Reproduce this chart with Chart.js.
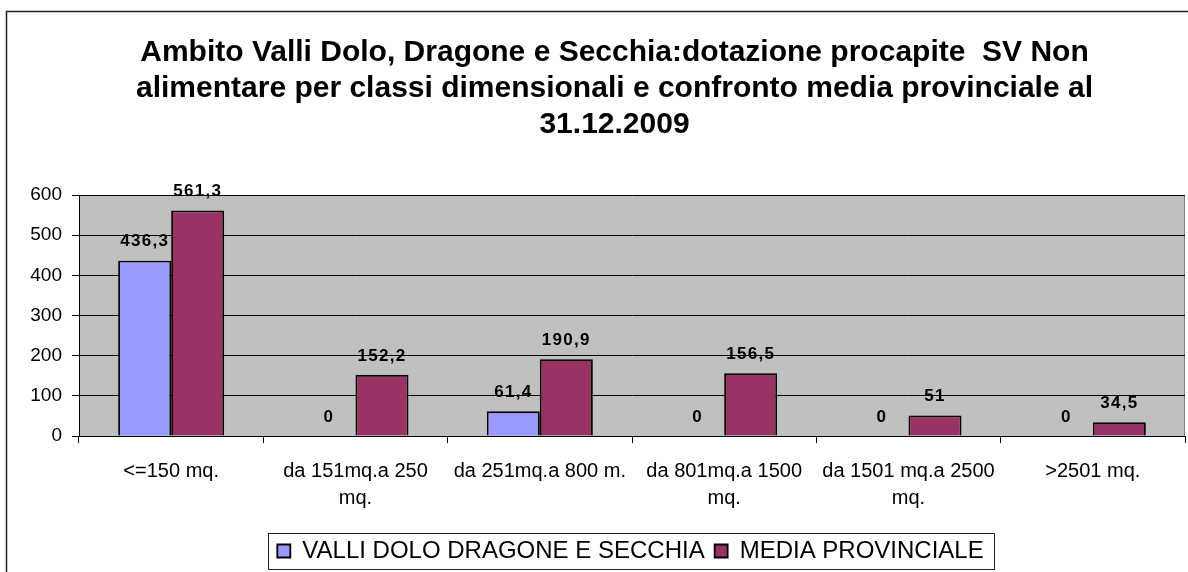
<!DOCTYPE html>
<html>
<head>
<meta charset="utf-8">
<script src="https://cdn.jsdelivr.net/npm/chart.js@4"></script>
<style>
  html, body { margin: 0; padding: 0; background: #fff; overflow: hidden; }
  #wrap { width: 1188px; height: 572px; overflow: hidden; }
</style>
</head>
<body>
<div id="wrap"><canvas id="myChart" width="1188" height="580"></canvas></div>
<script>
var categories = [
    '<=150 mq.',
    ['da 151mq.a 250', 'mq.'],
    'da 251mq.a 800 m.',
    ['da 801mq.a 1500', 'mq.'],
    ['da 1501 mq.a 2500', 'mq.'],
    '>2501 mq.'
];
var valliDolo = [436.3, 0, 61.4, 0, 0, 0];
var mediaProvinciale = [561.3, 152.2, 190.9, 156.5, 51, 34.5];
var yTicks = [0, 100, 200, 300, 400, 500, 600];
var titleLines = [
    'Ambito Valli Dolo, Dragone e Secchia:dotazione procapite  SV Non',
    'alimentare per classi dimensionali e confronto media provinciale al',
    '31.12.2009'
];

var FONT = "'Liberation Sans', Arial, sans-serif";

// sfondo bianco, cornice esterna, area grafico grigia
var sfondo = {
    id: 'sfondo',
    beforeDraw: function(chart) {
        var c = chart.ctx, a = chart.chartArea;
        c.save();
        c.fillStyle = '#fff';
        c.fillRect(0, 0, chart.width, chart.height);
        c.strokeStyle = '#222';
        c.lineWidth = 1.5;
        c.strokeRect(6.5, 11.5, 1400, 800);
        c.fillStyle = '#C0C0C0';
        c.fillRect(a.left, a.top, a.right - a.left, a.bottom - a.top);
        c.strokeStyle = '#808080';
        c.lineWidth = 1;
        c.strokeRect(a.left + 0.5, a.top + 0.5, a.right - a.left - 1, a.bottom - a.top);
        c.restore();
    }
};

// sposta titolo e legenda come nell'originale
var spostamenti = {
    id: 'spostamenti',
    afterLayout: function(chart) {
        var t = chart.titleBlock;
        t.left += 22; t.right += 22;
        var l = chart.legend;
        l.left += 38; l.right += 38;
        l.legendHitBoxes.forEach(function(hb) { hb.left += 38; });
    },
    afterDraw: function(chart) {
        var hb = chart.legend.legendHitBoxes;
        if (!hb.length) return;
        var c = chart.ctx;
        var x0 = hb[0].left - 9;
        var x1 = hb[hb.length - 1].left + hb[hb.length - 1].width + 11;
        var y0 = hb[0].top - 6;
        var y1 = hb[0].top + hb[0].height + 6;
        c.save();
        c.strokeStyle = '#222';
        c.lineWidth = 1;
        c.strokeRect(Math.round(x0) + 0.5, Math.round(y0) + 0.5, Math.round(x1 - x0), Math.round(y1 - y0));
        c.restore();
    }
};

// etichette dei valori sopra le barre
var etichette = {
    id: 'etichette',
    afterDatasetsDraw: function(chart) {
        var c = chart.ctx;
        c.save();
        c.font = 'bold 17px ' + FONT;
        c.letterSpacing = '1.3px';
        c.fillStyle = '#000';
        c.textAlign = 'center';
        c.textBaseline = 'middle';
        chart.data.datasets.forEach(function(ds, i) {
            chart.getDatasetMeta(i).data.forEach(function(bar, j) {
                var txt = String(ds.data[j]).replace('.', ',');
                c.fillText(txt, bar.x, bar.y - 19);
            });
        });
        c.restore();
    }
};

var ctx = document.getElementById('myChart').getContext('2d');

var myBarChart = new Chart(ctx, {
    type: 'bar',
    data: {
        labels: categories,
        datasets: [{
            label: 'VALLI DOLO DRAGONE E SECCHIA',
            data: valliDolo,
            backgroundColor: '#9999FF',
            borderColor: '#000',
            borderWidth: 1.8
        }, {
            label: 'MEDIA PROVINCIALE',
            data: mediaProvinciale,
            backgroundColor: '#993366',
            borderColor: '#000',
            borderWidth: 1.8
        }]
    },
    options: {
        responsive: false,
        animation: false,
        devicePixelRatio: 1,
        categoryPercentage: 0.575,
        barPercentage: 1,
        layout: { padding: { left: 0, right: 3, top: 0, bottom: 7 } },
        plugins: {
            title: {
                display: true,
                text: titleLines,
                color: '#000',
                font: { family: FONT, size: 30, weight: 'bold', lineHeight: 1.2 },
                padding: { top: 35, bottom: 52 }
            },
            legend: {
                position: 'bottom',
                labels: {
                    color: '#000',
                    font: { family: FONT, size: 24 },
                    boxWidth: 13,
                    boxHeight: 13,
                    padding: 10
                }
            },
            tooltip: { enabled: false }
        },
        scales: {
            x: {
                grid: {
                    display: true,
                    drawOnChartArea: false,
                    drawTicks: true,
                    tickLength: 7,
                    color: '#000',
                    offset: true
                },
                border: { color: '#000', width: 1 },
                ticks: {
                    color: '#000',
                    font: { family: FONT, size: 20, lineHeight: 1.35 },
                    padding: 15,
                    maxRotation: 0,
                    autoSkip: false
                },
                afterFit: function(scale) { scale.height = 93; }
            },
            y: {
                min: yTicks[0],
                max: yTicks[yTicks.length - 1],
                afterBuildTicks: function(scale) {
                    scale.ticks = yTicks.map(function(v) { return { value: v }; });
                },
                grid: { color: '#000', lineWidth: 1, tickLength: 7 },
                border: { color: '#000', width: 1 },
                ticks: {
                    color: '#000',
                    font: { family: FONT, size: 19 },
                    padding: 10
                },
                afterFit: function(scale) { scale.width = 79; }
            }
        }
    },
    plugins: [sfondo, spostamenti, etichette]
});
</script>
</body>
</html>
